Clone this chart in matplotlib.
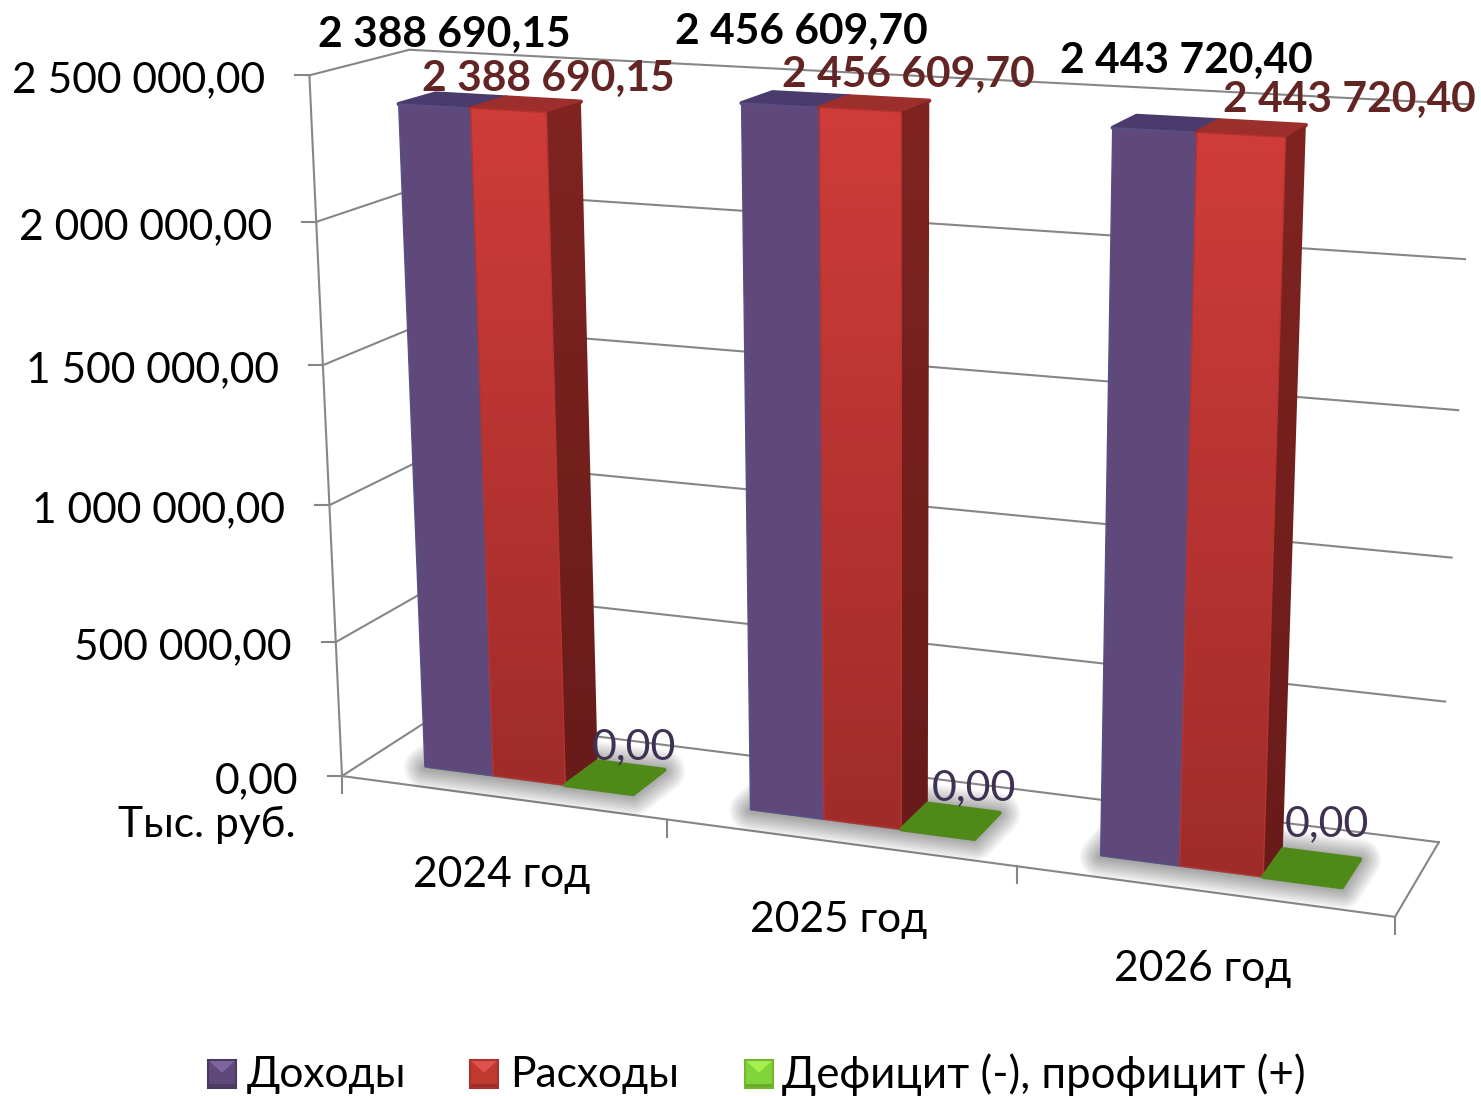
"""3D clustered column chart: budget income / expense / balance"""

import numpy as np
import matplotlib
matplotlib.use("Agg")
import matplotlib.pyplot as plt
from matplotlib.colors import to_rgb
from matplotlib.patches import Polygon

# ── Data ───────────────────────────────────────────────────────────────────
years = ["2024 год", "2025 год", "2026 год"]
income = [2388690.15, 2456609.70, 2443720.40]
expense = [2388690.15, 2456609.70, 2443720.40]
balance = [0.0, 0.0, 0.0]
y_ticks = [0, 500000, 1000000, 1500000, 2000000, 2500000]
legend_names = ["Доходы", "Расходы", "Дефицит (-), профицит (+)"]
y_unit = "Тыс. руб."

Y_MAX = 2500000.0
FONT = ["Lato", "Open Sans"]
GRID = "#868686"
FS = 30.6

plt.rcParams["font.family"] = FONT


def fmt(v):
    return f"{v:,.2f}".replace(",", " ").replace(".", ",")


# ── Camera: fit a 3x4 projection on the frame corners (x, y, depth → pixels) ──
anchors = [
    (0, 0, 0, 342, 777), (1, 0, 0, 667, 820), (2, 0, 0, 1017, 866), (3, 0, 0, 1395, 917),
    (0, 0, 1, 436, 716), (3, 0, 1, 1438, 842), (0, 1, 0, 310, 75), (0, 1, 1, 408, 50),
    (3, 1, 1, 1472, 105), (3, .8, 1, 1465, 259), (3, .6, 1, 1458, 410), (3, .4, 1, 1452, 557),
    (3, .2, 1, 1446, 702), (0, .8, 0, 317, 222), (0, .2, 0, 335, 641),
]
rows, rhs = [], []
for X, Y, Z, u, v in anchors:
    rows.append([X, Y, Z, 1, 0, 0, 0, 0, -u * X, -u * Y, -u * Z])
    rows.append([0, 0, 0, 0, X, Y, Z, 1, -v * X, -v * Y, -v * Z])
    rhs += [u, v]
cam = np.append(np.linalg.lstsq(np.array(rows, float), np.array(rhs, float), rcond=None)[0], 1).reshape(3, 4)


def proj(x, value, z):
    p = cam @ np.array([x, value / Y_MAX, z, 1.0])
    return p[0] / p[2], p[1] / p[2]


# ── Canvas in pixels ───────────────────────────────────────────────────────
fig = plt.figure(figsize=(14.81, 10.96), dpi=100)
ax = fig.add_axes([0, 0, 1, 1])
ax.set_xlim(0, 1481)
ax.set_ylim(1096, 0)
ax.axis("off")

order = [10]


def next_z():
    order[0] += 1
    return order[0]


def grad_poly(pts, top, bottom, edge=None, lw=1.0):
    """Polygon with a vertical gradient, drawn as a clipped image."""
    pts = np.array(pts)
    z = next_z()
    c0, c1 = np.array(to_rgb(top)), np.array(to_rgb(bottom))
    img = np.linspace(c0, c1, 64).reshape(64, 1, 3)
    im = ax.imshow(img, extent=(pts[:, 0].min() - 2, pts[:, 0].max() + 2, pts[:, 1].max() + 2, pts[:, 1].min() - 2),
                   aspect="auto", interpolation="bilinear", zorder=z)
    clip = Polygon(pts, closed=True, transform=ax.transData, fc="none", ec="none")
    ax.add_patch(clip)
    im.set_clip_path(clip)
    if edge:
        ax.add_patch(Polygon(pts, closed=True, fc="none", ec=edge, lw=lw, joinstyle="round", zorder=z))


def flat_poly(pts, color, edge=None, lw=2.5):
    ax.add_patch(Polygon(pts, closed=True, fc=color, ec=edge or color, lw=lw, joinstyle="round", zorder=next_z()))


def shadow(pts):
    z = next_z()
    pts = np.array(pts) + [0, 1]
    for w in range(30, 0, -3):
        ax.add_patch(Polygon(pts, closed=True, fc="black", ec="black", lw=w, alpha=0.04,
                             joinstyle="round", zorder=z))


def column(x0, x1, z0, z1, value, c_face, c_side, c_top, c_edge):
    fl, fr = proj(x0, value, z0), proj(x1, value, z0)
    bl, br = proj(x0, value, z1), proj(x1, value, z1)
    fl0, fr0, br0 = proj(x0, 0, z0), proj(x1, 0, z0), proj(x1, 0, z1)
    flat_poly([fl, bl, br, fr], c_top, lw=3)
    grad_poly([fr, br, br0, fr0], *c_side)
    grad_poly([fl, fr, fr0, fl0], *c_face, edge=c_edge)


# ── Walls and floor ────────────────────────────────────────────────────────
LINE_W = 1.5
for t in y_ticks:
    pts = [proj(0, t, 0), proj(0, t, 1), proj(3, t, 1)]
    ax.plot(*zip(*pts), color=GRID, lw=LINE_W, zorder=2)
    x, y = proj(0, t, 0)
    ax.plot([x - 14, x], [y, y], color=GRID, lw=LINE_W, zorder=2)
    ax.text(x - 44, y + 5, fmt(t), ha="right", va="center", fontsize=FS, color="black", zorder=200)

ax.plot(*zip(proj(0, 0, 0), proj(0, Y_MAX, 0)), color=GRID, lw=LINE_W, zorder=2)
ax.plot(*zip(proj(0, 0, 0), proj(3, 0, 0), proj(3, 0, 1)), color=GRID, lw=LINE_W, zorder=2)
for i in range(4):
    x, y = proj(i, 0, 0)
    ax.plot([x, x], [y, y + 17], color=GRID, lw=LINE_W, zorder=2)

# ── Columns ────────────────────────────────────────────────────────────────
GAP = 0.182
W_INC, W_EXP, W_BAL = 0.216, 0.224, 0.208
Z0, Z1 = 0.27, 0.65
PURPLE = (("#604a7b", "#5f497a"), ("#4f3f6e", "#4a3a66"), "#4b3b6c", "#565085")
RED = (("#cf3c39", "#9f2c2a"), ("#7f2421", "#691b19"), "#9c2e2b", "#b5332f")

for i in range(len(years)):
    x0 = i + GAP
    xs = [x0, x0 + W_INC, x0 + W_INC + W_EXP, x0 + W_INC + W_EXP + W_BAL]
    shadow([proj(xs[0], 0, Z0), proj(xs[3], 0, Z0), proj(xs[3], 0, Z1), proj(xs[0], 0, Z1)])
    column(xs[0], xs[1], Z0, Z1, income[i], *PURPLE)
    column(xs[1], xs[2], Z0, Z1, expense[i], *RED)
    flat_poly([proj(xs[2], balance[i], Z0), proj(xs[3], balance[i], Z0),
               proj(xs[3], balance[i], Z1), proj(xs[2], balance[i], Z1)], "#4f8a18", lw=3)
    xm, ym = proj(i + 0.5, 0, 0)
    ax.text(xm, ym + 78, years[i], ha="center", va="center", fontsize=FS, color="black", zorder=200)

# ── Data labels (placed by hand in the source chart) ───────────────────────
income_xy = [(444, 35), (801, 32), (1186, 61)]
expense_xy = [(548, 79), (908, 75), (1349, 100)]
balance_xy = [(634, 747), (974, 788), (1327, 824)]
for i in range(len(years)):
    ax.text(*income_xy[i], fmt(income[i]), ha="center", va="center", fontsize=FS, fontweight="bold",
            color="black", zorder=201)
    ax.text(*expense_xy[i], fmt(expense[i]), ha="center", va="center", fontsize=FS, fontweight="bold",
            color="#632523", zorder=201)
    ax.text(*balance_xy[i], fmt(balance[i]), ha="center", va="center", fontsize=31, color="#3f3151", zorder=201)

ax.text(296, 825, y_unit, ha="right", va="center", fontsize=FS, color="black", zorder=200)


# ── Legend ─────────────────────────────────────────────────────────────────
def legend_key(x, y, s, top, mid, low, edge):
    tl, tr, br, bl = (x, y), (x + s, y), (x + s, y + s), (x, y + s)
    c = (x + s / 2, y + s * 0.45)
    flat_poly([tl, tr, br, bl], mid, lw=0)
    flat_poly([tl, tr, c], top, lw=0)
    flat_poly([(x, y + s - 4), (x + s, y + s - 4), br, bl], low, lw=0)
    ax.add_patch(Polygon([tl, tr, br, bl], closed=True, fc="none", ec=edge, lw=1.5, zorder=next_z()))


keys_x = [208, 470, 745]
texts_x = [247, 510, 782]
legend_fs = [FS, FS, 31.5]
key_styles = [("#7d65a0", "#5f497a", "#4e3c66", "#4a3a60"),
              ("#e0504d", "#c0392f", "#9c2b28", "#a8322e"),
              ("#a6f04c", "#80d53a", "#68ac28", "#76b531")]
for name, kx, tx, lfs, st in zip(legend_names, keys_x, texts_x, legend_fs, key_styles):
    legend_key(kx, 1060, 28, *st)
    ax.text(tx, 1075, name, ha="left", va="center", fontsize=lfs, color="black", zorder=200)

fig.savefig("out.png", dpi=100)
